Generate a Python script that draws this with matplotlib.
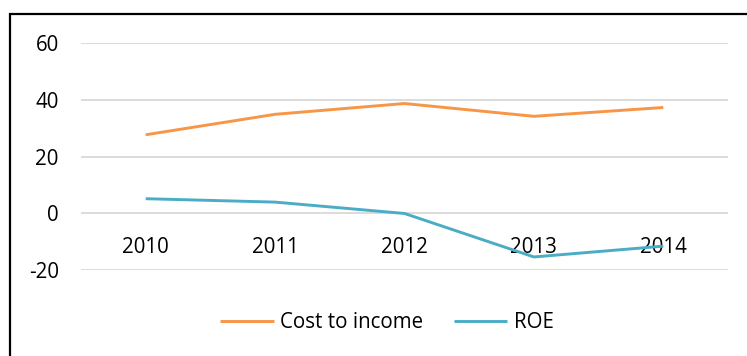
import numpy as np
import matplotlib.pyplot as plt
from matplotlib.patches import Rectangle

years = ["2010", "2011", "2012", "2013", "2014"]
cost_to_income = [27.7, 34.9, 38.7, 34.2, 37.3]
roe = [5.2, 4.0, 0.0, -15.3, -11.5]

orange = "#F79646"
blue = "#4BACC6"
grid_col = "#D9D9D9"

plt.rcParams['font.family'] = ['Open Sans', 'DejaVu Sans']
plt.rcParams['axes.unicode_minus'] = False
fs = 14.8

W, H = 747, 356
fig = plt.figure(figsize=(W / 100, H / 100), dpi=100)
ax = fig.add_axes([81 / W, 1 - 270.3 / H, (728 - 81) / W, (270.3 - 43) / H])

x = np.arange(len(years))
ax.plot(x, cost_to_income, color=orange, lw=2.1, label="Cost to income", solid_capstyle='butt')
ax.plot(x, roe, color=blue, lw=2.1, label="ROE", solid_capstyle='butt')

ax.set_xlim(-0.5, len(years) - 0.5)
ax.set_ylim(-20, 60)
ax.set_yticks([-20, 0, 20, 40, 60])
for v in [-20, 0, 20, 40, 60]:
    ax.axhline(v, color=grid_col, lw=1.3, zorder=0)

ax.set_xticks(x)
ax.set_xticklabels(years)
ax.spines['bottom'].set_position(('data', 0))
for s in ax.spines.values():
    s.set_visible(False)
ax.tick_params(axis='x', length=0, pad=17, labelsize=fs)
ax.tick_params(axis='y', length=0, pad=16, labelsize=fs)

fig.legend(loc='center', bbox_to_anchor=(387 / W, 1 - 323 / H), ncol=2,
           frameon=False, fontsize=fs, handlelength=2.6, handletextpad=0.3,
           columnspacing=1.5)

# chart frame, running off the right and bottom edges
fig.patches.append(Rectangle((10 / W, -0.1), 1.0, 1.1 - 13.5 / H,
                             transform=fig.transFigure, fill=False,
                             edgecolor='black', lw=1.6))

fig.savefig("out.png", dpi=100)
